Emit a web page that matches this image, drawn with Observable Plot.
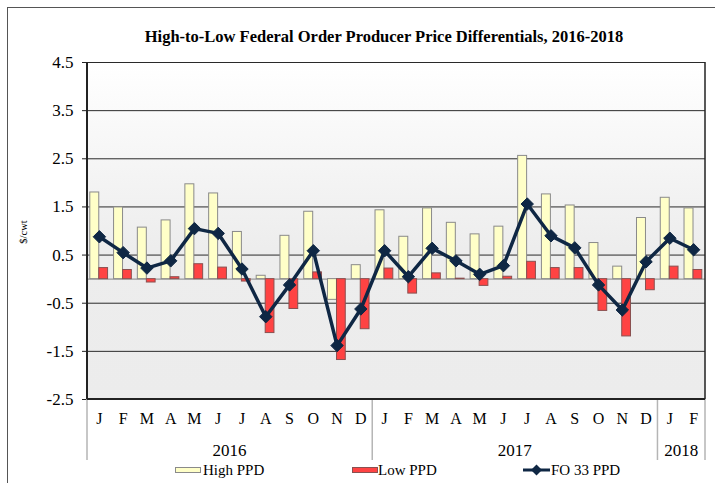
<!DOCTYPE html>
<html>
<head>
<meta charset="utf-8">
<script src="https://cdn.jsdelivr.net/npm/d3@7"></script>
<script src="https://cdn.jsdelivr.net/npm/@observablehq/plot@0.6"></script>
<style>
  body { margin: 0; background: #fff; }
  #wrap { position: relative; width: 715px; height: 483px; overflow: hidden; font-family: "Liberation Serif", "Times New Roman", serif; }
  #border { position: absolute; left: 7px; top: 7px; width: 730px; height: 500px; border: 1px solid #555; box-sizing: border-box; }
  #title { position: absolute; left: 384px; top: 28px; transform: translateX(-50%); white-space: nowrap; font-weight: bold; font-size: 16.5px; line-height: 18px; color: #000; }
  #ylab { position: absolute; left: 23px; top: 232px; transform: translate(-50%, -50%) rotate(-90deg); font-size: 10.5px; white-space: nowrap; }
  .leg { position: absolute; top: 461px; font-size: 15px; line-height: 18px; white-space: nowrap; }
  .sw { position: absolute; top: 467px; height: 6px; box-sizing: border-box; }
  #chart { position: absolute; left: 0; top: 0; }
  #chart svg, #chart svg text { font-family: "Liberation Serif", "Times New Roman", serif !important; }
</style>
</head>
<body>
<div id="wrap">
  <div id="border"></div>
  <div id="chart"></div>
  <div id="title"></div>
  <div id="ylab">$/cwt</div>
  <div id="legend"></div>
</div>
<script>
const titleText = "High-to-Low Federal Order Producer Price Differentials, 2016-2018";
const monthLabels = ["J","F","M","A","M","J","J","A","S","O","N","D",
                     "J","F","M","A","M","J","J","A","S","O","N","D",
                     "J","F"];
const yearLabels = ["2016", "2017", "2018"];
const yearStart = [0, 12, 24];
const yearLength = [12, 12, 2];
const highPPD = [1.80, 1.49, 1.07, 1.22, 1.97, 1.78, 0.98, 0.07, 0.90, 1.40, -0.43, 0.29,
                 1.43, 0.88, 1.47, 1.17, 0.93, 1.09, 2.56, 1.76, 1.53, 0.75, 0.26, 1.27,
                 1.69, 1.47];
const lowPPD  = [0.23, 0.19, -0.07, 0.04, 0.31, 0.24, -0.05, -1.12, -0.62, 0.14, -1.68, -1.04,
                 0.22, -0.30, 0.12, 0.01, -0.14, 0.05, 0.36, 0.23, 0.23, -0.66, -1.19, -0.23,
                 0.26, 0.19];
const fo33PPD = [0.88, 0.55, 0.23, 0.38, 1.05, 0.95, 0.21, -0.78, -0.12, 0.59, -1.38, -0.62,
                 0.59, 0.05, 0.64, 0.38, 0.10, 0.28, 1.56, 0.90, 0.65, -0.12, -0.64, 0.36,
                 0.85, 0.61];
const yTicks = [-2.5, -1.5, -0.5, 0.5, 1.5, 2.5, 3.5, 4.5];
const seriesNames = ["High PPD", "Low PPD", "FO 33 PPD"];

const n = monthLabels.length;
const idx = d3.range(n);
const rows = idx.map(i => ({i, high: highPPD[i], low: lowPPD[i], fo: fo33PPD[i]}));
// year label sits at the band boundary in the middle of each year
const years = yearLabels.map((y, k) => ({label: y, at: yearStart[k] + yearLength[k] / 2}));
const boundaries = yearStart.concat([n]);

const W = 715, H = 483;
const mL = 87, mR = 10, mT = 62, mB = 84;
const FF = "'Liberation Serif', 'Times New Roman', serif";

const navy = "#0f2744";
const plot = Plot.plot({
  width: W, height: H,
  marginLeft: mL, marginRight: mR, marginTop: mT, marginBottom: mB,
  style: {fontFamily: FF, background: "transparent", overflow: "visible"},
  x: {type: "band", domain: idx, padding: 0, round: false, axis: null},
  y: {domain: [-2.5, 4.5], axis: null},
  marks: [
    Plot.frame({fill: "url(#bgGrad)", stroke: null}),
    Plot.ruleY(yTicks, {stroke: "#2a2a2a", strokeWidth: 1}),
    Plot.ruleY([0], {stroke: "#9a9a9a", strokeWidth: 1.2}),
    Plot.barY(rows, {x: "i", y: "high", fill: "#ffffc8", stroke: "#8a8a8a", strokeWidth: 1, insetLeft: 2.8, insetRight: 12}),
    Plot.barY(rows, {x: "i", y: "low", fill: "#ff4343", stroke: "#8a5050", strokeWidth: 1, insetLeft: 11.8, insetRight: 3.2}),
    Plot.line(rows, {x: "i", y: "fo", stroke: navy, strokeWidth: 3.5, strokeLinejoin: "miter"}),
    Plot.dot(rows, {x: "i", y: "fo", symbol: "diamond2", r: 5.6, fill: navy, stroke: navy, strokeWidth: 1}),
    Plot.axisY(yTicks, {tickSize: 5, tickPadding: 9, fontSize: 17, fontFamily: FF, tickFormat: d => d.toFixed(1), stroke: "#222", label: null}),
    Plot.axisX(idx, {tickSize: 0, tickPadding: 13, fontSize: 16, fontFamily: FF, tickFormat: i => monthLabels[i], label: null})
  ]
});
document.getElementById("chart").appendChild(plot);

// additional marks drawn with the plot's own x and y scales
const xs = plot.scale("x"), ys = plot.scale("y");
const xScale = d3.scaleBand().domain(xs.domain).range(xs.range).paddingInner(0).paddingOuter(0);
const yScale = d3.scaleLinear().domain(ys.domain).range(ys.range);
const edge = k => xScale(Math.min(k, n - 1)) + (k >= n ? xScale.bandwidth() : 0);

const svg = d3.select(plot);
svg.attr("font-family", FF);
const defs = svg.insert("defs", ":first-child");
const grad = defs.append("linearGradient").attr("id", "bgGrad").attr("x1", 0).attr("y1", 0).attr("x2", 0).attr("y2", 1);
grad.append("stop").attr("offset", "0%").attr("stop-color", "#ffffff");
grad.append("stop").attr("offset", "55%").attr("stop-color", "#ededed");
grad.append("stop").attr("offset", "100%").attr("stop-color", "#ececec");

const g = svg.append("g");
const yBottom = yScale(-2.5), yTop = yScale(4.5);
// year separators below the plot
g.selectAll("line.sep").data(boundaries).join("line")
  .attr("x1", edge).attr("x2", edge)
  .attr("y1", yBottom).attr("y2", yBottom + 61)
  .attr("stroke", "#b5b5b5").attr("stroke-width", 1.5);
// frame: left, right, bottom
g.append("line").attr("x1", edge(0)).attr("x2", edge(0)).attr("y1", yTop).attr("y2", yBottom).attr("stroke", "#222").attr("stroke-width", 2);
g.append("line").attr("x1", edge(n)).attr("x2", edge(n)).attr("y1", yTop).attr("y2", yBottom).attr("stroke", "#222").attr("stroke-width", 1.5);
g.append("line").attr("x1", edge(0)).attr("x2", edge(n)).attr("y1", yBottom).attr("y2", yBottom).attr("stroke", "#222").attr("stroke-width", 2);
// year labels
g.selectAll("text.yr").data(years).join("text")
  .attr("x", d => edge(d.at)).attr("y", yBottom + 57)
  .attr("text-anchor", "middle").attr("font-size", 17).attr("font-family", FF)
  .text(d => d.label);

document.getElementById("title").textContent = titleText;

// legend
const leg = document.getElementById("legend");
leg.innerHTML = `
  <div class="sw" style="left:175px;width:26px;background:#ffffc8;border:1px solid #8a8a8a"></div>
  <div class="leg" style="left:203px">${seriesNames[0]}</div>
  <div class="sw" style="left:352px;width:26px;background:#ff4343;border:1px solid #8a5050"></div>
  <div class="leg" style="left:378px">${seriesNames[1]}</div>
  <svg style="position:absolute;left:522px;top:463px" width="30" height="14"><line x1="1" y1="7" x2="28" y2="7" stroke="${navy}" stroke-width="3"/><path d="M14.5,1.5 L20,7 L14.5,12.5 L9,7Z" fill="${navy}"/></svg>
  <div class="leg" style="left:551px">${seriesNames[2]}</div>
`;
</script>
</body>
</html>
